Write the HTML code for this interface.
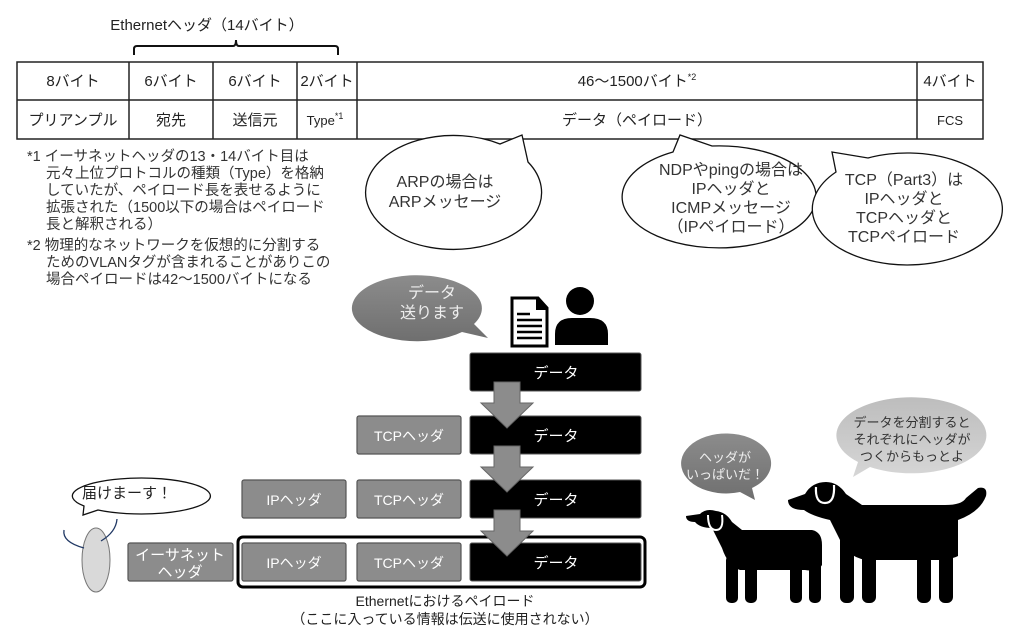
<!DOCTYPE html>
<html><head><meta charset="utf-8"><style>
html,body{margin:0;padding:0;background:#fff;}
svg{display:block;font-family:"Liberation Sans","Noto Sans CJK JP",sans-serif;}
</style></head><body>
<svg width="1015" height="640" viewBox="0 0 1015 640" xmlns="http://www.w3.org/2000/svg">
<rect width="1015" height="640" fill="#fff"/>
<text x="207" y="30" font-size="15" text-anchor="middle" fill="#222">Ethernetヘッダ（14バイト）</text>
<path d="M134 55 V49 Q134 46 137 46 H233 Q236 46 236 40 Q236 46 239 46 H335 Q338 46 338 49 V55" fill="none" stroke="#111" stroke-width="2"/>
<g stroke="#222" stroke-width="1.5" fill="none">
<rect x="17" y="62" width="966" height="77"/>
<line x1="17" y1="100" x2="983" y2="100"/>
<line x1="129" y1="62" x2="129" y2="139"/>
<line x1="213" y1="62" x2="213" y2="139"/>
<line x1="297" y1="62" x2="297" y2="139"/>
<line x1="357" y1="62" x2="357" y2="139"/>
<line x1="917" y1="62" x2="917" y2="139"/>
</g>
<g font-size="15" fill="#222" text-anchor="middle">
<text x="73" y="86">8バイト</text>
<text x="171" y="86">6バイト</text>
<text x="255" y="86">6バイト</text>
<text x="327" y="86">2バイト</text>
<text x="637" y="86">46～1500バイト<tspan font-size="9" dy="-6">*2</tspan></text>
<text x="950" y="86">4バイト</text>
<text x="73" y="125">プリアンプル</text>
<text x="171" y="125">宛先</text>
<text x="255" y="125">送信元</text>
<text x="325" y="125" font-size="13">Type<tspan font-size="9" dy="-6">*1</tspan></text>
<text x="637" y="125">データ（ペイロード）</text>
<text x="950" y="125" font-size="13">FCS</text>
</g>
<g font-size="14.5" fill="#333">
<text x="27" y="161">*1 イーサネットヘッダの13・14バイト目は</text>
<text x="46" y="178">元々上位プロトコルの種類（Type）を格納</text>
<text x="46" y="195">していたが、ペイロード長を表せるように</text>
<text x="46" y="212">拡張された（1500以下の場合はペイロード</text>
<text x="46" y="229">長と解釈される）</text>
<text x="27" y="250">*2 物理的なネットワークを仮想的に分割する</text>
<text x="46" y="267">ためのVLANタグが含まれることがありこの</text>
<text x="46" y="284">場合ペイロードは42～1500バイトになる</text>
</g>
<g fill="#fff" stroke="#111" stroke-width="1.3">
<path d="M500 144 L522 135 L528 162 A88 57 0 1 1 500 144 Z"/>
<path d="M673 152 L680 135 L712 146 A97 51 0 1 1 673 152 Z"/>
<path d="M836 172 L832 152 L868 158 A95 56 0 1 1 836 172 Z"/>
</g>
<g font-size="16" fill="#333" text-anchor="middle">
<text x="445" y="187">ARPの場合は</text>
<text x="445" y="207">ARPメッセージ</text>
<text x="731" y="175">NDPやpingの場合は</text>
<text x="731" y="194">IPヘッダと</text>
<text x="731" y="213">ICMPメッセージ</text>
<text x="731" y="232">（IPペイロード）</text>
<text x="904" y="185">TCP（Part3）は</text>
<text x="904" y="204">IPヘッダと</text>
<text x="904" y="223">TCPヘッダと</text>
<text x="904" y="242">TCPペイロード</text>
</g>
<defs>
<linearGradient id="g1" x1="0" y1="0" x2="0" y2="1"><stop offset="0" stop-color="#8c8c8c"/><stop offset="1" stop-color="#6f6f6f"/></linearGradient>
<linearGradient id="g2" x1="0" y1="0" x2="0" y2="1"><stop offset="0" stop-color="#bdbdbd"/><stop offset="1" stop-color="#d6d6d6"/></linearGradient>
</defs>
<path d="M474 324 L488 338 L462 332 A65 33 0 1 1 474 324 Z" fill="url(#g1)"/>
<text x="432" y="298" font-size="16" fill="#eee" text-anchor="middle">データ</text>
<text x="432" y="318" font-size="16" fill="#eee" text-anchor="middle">送ります</text>
<path d="M512 298 H538 L547 308 V346 H512 Z" fill="#fff" stroke="#000" stroke-width="3"/>
<path d="M537 298 V309 H547" fill="#000" stroke="#000" stroke-width="2"/>
<g stroke="#000" stroke-width="2.5"><line x1="517" y1="314" x2="530" y2="314"/><line x1="517" y1="320" x2="542" y2="320"/><line x1="517" y1="326" x2="542" y2="326"/><line x1="517" y1="332" x2="542" y2="332"/><line x1="517" y1="338" x2="542" y2="338"/></g>
<circle cx="580" cy="301" r="14" fill="#000"/>
<path d="M555 345 V334 Q555 318 572 318 H590 Q608 318 608 334 V345 Z" fill="#000"/>
<g fill="#000" stroke="#555" stroke-width="1">
<rect x="470" y="353" width="171" height="38" rx="2"/>
<rect x="470" y="416" width="171" height="38" rx="2"/>
<rect x="470" y="480" width="171" height="38" rx="2"/>
<rect x="470" y="543" width="171" height="38" rx="2"/>
</g>
<g fill="#8c8c8c" stroke="#555" stroke-width="1.2">
<rect x="357" y="416" width="104" height="38" rx="2"/>
<rect x="357" y="480" width="104" height="38" rx="2"/>
<rect x="357" y="543" width="104" height="38" rx="2"/>
<rect x="242" y="480" width="104" height="38" rx="2"/>
<rect x="242" y="543" width="104" height="38" rx="2"/>
<rect x="128" y="543" width="105" height="38" rx="2"/>
</g>
<rect x="238" y="537" width="407" height="50" rx="5" fill="none" stroke="#000" stroke-width="3"/>
<g fill="#8c8c8c" stroke="#666" stroke-width="1">
<path d="M494 382 H520 V403 H533 L507 428 L481 403 H494 Z"/>
<path d="M494 446 H520 V467 H533 L507 492 L481 467 H494 Z"/>
<path d="M494 510 H520 V531 H533 L507 556 L481 531 H494 Z"/>
</g>
<g font-size="15" fill="#fff" text-anchor="middle">
<text x="556" y="378">データ</text>
<text x="556" y="441">データ</text>
<text x="556" y="505">データ</text>
<text x="556" y="568">データ</text>
</g>
<g font-size="14" fill="#fff" text-anchor="middle">
<text x="409" y="441">TCPヘッダ</text>
<text x="409" y="505">TCPヘッダ</text>
<text x="409" y="568">TCPヘッダ</text>
<text x="294" y="505">IPヘッダ</text>
<text x="294" y="568">IPヘッダ</text>
<text x="180" y="560" font-size="15">イーサネット</text>
<text x="180" y="577" font-size="15">ヘッダ</text>
</g>
<text x="445" y="606" font-size="14" fill="#222" text-anchor="middle">Ethernetにおけるペイロード</text>
<text x="445" y="624" font-size="14" fill="#222" text-anchor="middle">（ここに入っている情報は伝送に使用されない）</text>
<path d="M98 510 L83 515 L84 506 A69 18 0 1 1 98 510 Z" fill="#fff" stroke="#111" stroke-width="1.3"/>
<text x="127" y="498" font-size="15" fill="#222" text-anchor="middle">届けまーす！</text>
<ellipse cx="96" cy="560" rx="14" ry="32" fill="#d9d9d9" stroke="#777" stroke-width="1"/>
<path d="M64 530 Q62 542 84 548" fill="none" stroke="#203864" stroke-width="1.3"/>
<path d="M117 519 Q116 532 101 541" fill="none" stroke="#203864" stroke-width="1.3"/>
<path d="M740 492 L755 500 L752 488 A45 30 0 1 0 740 492 Z" fill="url(#g1)"/>
<text x="725" y="462" font-size="13" fill="#eee" text-anchor="middle">ヘッダが</text>
<text x="725" y="479" font-size="13" fill="#eee" text-anchor="middle">いっぱいだ！</text>
<path d="M870 467 L853 477 L858 462 A75 38 0 1 1 870 467 Z" fill="url(#g2)"/>
<text x="912" y="427" font-size="13" fill="#333" text-anchor="middle">データを分割すると</text>
<text x="912" y="444" font-size="13" fill="#333" text-anchor="middle">それぞれにヘッダが</text>
<text x="912" y="461" font-size="13" fill="#333" text-anchor="middle">つくからもっとよ</text>
<g fill="#000">
<path d="M686 516 L700 514 Q706 508 716 511 Q726 512 732 522 L742 530 H812 Q822 532 822 545 V565 Q818 572 805 570 H740 Q728 566 722 548 L712 528 Q700 528 695 522 Q686 522 686 516 Z"/>
<rect x="726" y="555" width="12" height="48" rx="5"/><rect x="745" y="555" width="12" height="48" rx="5"/>
<rect x="790" y="560" width="12" height="43" rx="5"/><rect x="809" y="555" width="12" height="48" rx="5"/>
</g>
<path d="M708 515 Q708 530 716 530 Q724 530 722 515" fill="none" stroke="#fff" stroke-width="2"/>
<g fill="#000">
<path d="M788 500 L805 494 Q812 482 826 482 Q838 482 846 494 L862 505 H945 Q962 505 966 498 L978 488 Q988 486 986 496 Q980 512 958 520 V556 Q950 560 935 560 H870 Q850 560 840 540 L830 520 Q812 516 804 510 Q788 510 788 500 Z"/>
<rect x="840" y="535" width="14" height="68" rx="6"/><rect x="862" y="535" width="14" height="68" rx="6"/>
<rect x="917" y="555" width="14" height="48" rx="6"/><rect x="939" y="540" width="14" height="63" rx="6"/>
</g>
<path d="M816 487 Q815 503 825 503 Q835 503 834 485" fill="none" stroke="#fff" stroke-width="2.2"/>
</svg>
</body></html>
